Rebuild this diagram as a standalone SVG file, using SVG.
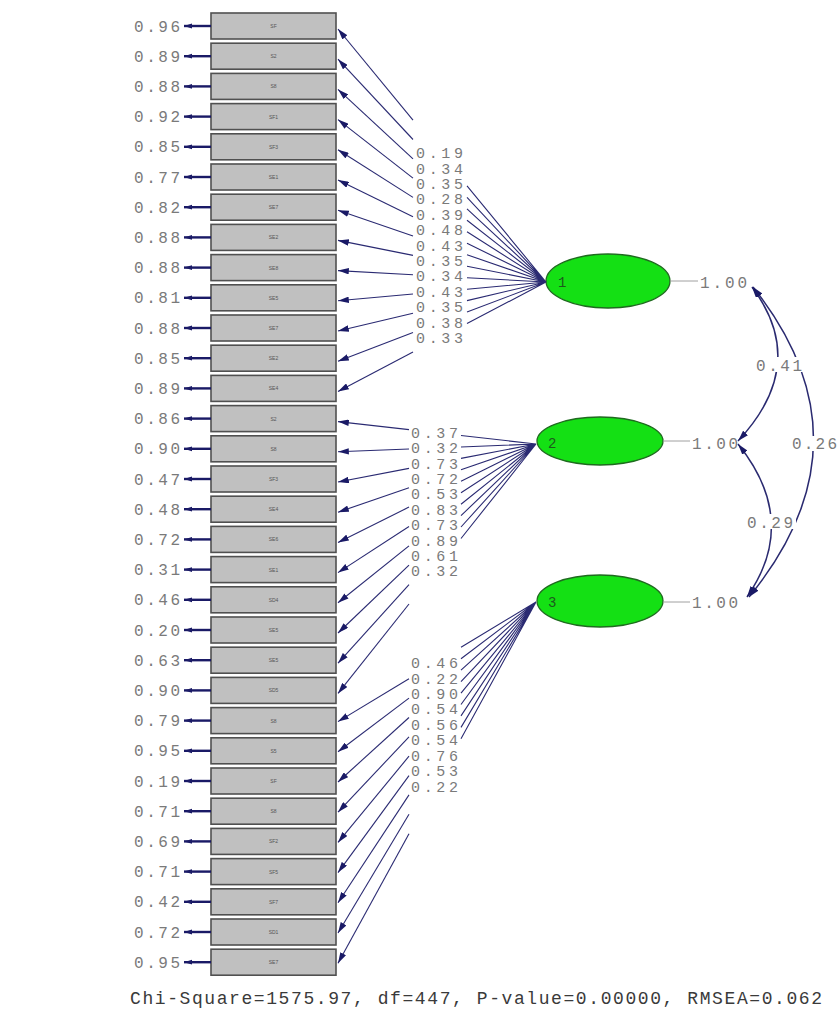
<svg xmlns="http://www.w3.org/2000/svg" width="837" height="1012" viewBox="0 0 837 1012">
  <style>
    .box { fill: #c0c0c0; stroke: #505050; stroke-width: 1.6; }
    .vl { font-family: "Liberation Sans", Arial, sans-serif; font-size: 5px; fill: #555; text-anchor: middle; }
    .num { font-family: "Liberation Mono", "Courier New", monospace; font-size: 16px; fill: #7a7a7a; }
    .ld { font-family: "Liberation Mono", "Courier New", monospace; font-size: 15px; fill: #7a7a7a; }
    .fac { fill: #14e014; stroke: #1f6b1f; stroke-width: 1.3; }
    .fl { font-family: "Liberation Mono", "Courier New", monospace; font-size: 14px; fill: #1d5a1d; }
    .ln { fill: none; stroke: #2a2a72; stroke-width: 1.1; }
    .err { fill: none; stroke: #1a1a66; stroke-width: 2.4; }
    .cov { fill: none; stroke: #2a2a70; stroke-width: 1.5; }
    .var { fill: none; stroke: #a0a0a0; stroke-width: 1; }
    .bg { fill: #ffffff; }
    .fit { font-family: "Liberation Mono", "Courier New", monospace; font-size: 18px; fill: #3a3a3a; }
  </style>
  <defs>
    <marker id="ah" viewBox="0 0 10 6" refX="10" refY="3" markerWidth="11" markerHeight="6.5" markerUnits="userSpaceOnUse" orient="auto">
      <path d="M0,0 L10,3 L0,6 z" fill="#1a1a66"/>
    </marker>
    <marker id="ahe" viewBox="0 0 10 6" refX="10" refY="3" markerWidth="8" markerHeight="6" markerUnits="userSpaceOnUse" orient="auto">
      <path d="M0,0 L10,3 L0,6 z" fill="#1a1a66"/>
    </marker>
    <marker id="ahc" viewBox="0 0 10 6" refX="10" refY="3" markerWidth="11" markerHeight="7" markerUnits="userSpaceOnUse" orient="auto-start-reverse">
      <path d="M0,0 L10,3 L0,6 z" fill="#1a1a66"/>
    </marker>
  </defs>
  <rect width="837" height="1012" fill="#ffffff"/>

  <!-- observed variables -->
  <g id="v01"><rect class="box" x="211" y="13" width="125" height="26"/><text class="vl" x="273.5" y="28">SF</text></g>
  <g id="v02"><rect class="box" x="211" y="43.2" width="125" height="26"/><text class="vl" x="273.5" y="58.2">S2</text></g>
  <g id="v03"><rect class="box" x="211" y="73.4" width="125" height="26"/><text class="vl" x="273.5" y="88.4">S8</text></g>
  <g id="v04"><rect class="box" x="211" y="103.6" width="125" height="26"/><text class="vl" x="273.5" y="118.6">SF1</text></g>
  <g id="v05"><rect class="box" x="211" y="133.8" width="125" height="26"/><text class="vl" x="273.5" y="148.8">SF3</text></g>
  <g id="v06"><rect class="box" x="211" y="164" width="125" height="26"/><text class="vl" x="273.5" y="179">SE1</text></g>
  <g id="v07"><rect class="box" x="211" y="194.2" width="125" height="26"/><text class="vl" x="273.5" y="209.2">SE7</text></g>
  <g id="v08"><rect class="box" x="211" y="224.4" width="125" height="26"/><text class="vl" x="273.5" y="239.4">SE2</text></g>
  <g id="v09"><rect class="box" x="211" y="254.6" width="125" height="26"/><text class="vl" x="273.5" y="269.6">SE8</text></g>
  <g id="v10"><rect class="box" x="211" y="284.8" width="125" height="26"/><text class="vl" x="273.5" y="299.8">SE5</text></g>
  <g id="v11"><rect class="box" x="211" y="315" width="125" height="26"/><text class="vl" x="273.5" y="330">SE7</text></g>
  <g id="v12"><rect class="box" x="211" y="345.2" width="125" height="26"/><text class="vl" x="273.5" y="360.2">SE2</text></g>
  <g id="v13"><rect class="box" x="211" y="375.4" width="125" height="26"/><text class="vl" x="273.5" y="390.4">SE4</text></g>
  <g id="v14"><rect class="box" x="211" y="405.6" width="125" height="26"/><text class="vl" x="273.5" y="420.6">S2</text></g>
  <g id="v15"><rect class="box" x="211" y="435.8" width="125" height="26"/><text class="vl" x="273.5" y="450.8">S8</text></g>
  <g id="v16"><rect class="box" x="211" y="466" width="125" height="26"/><text class="vl" x="273.5" y="481">SF3</text></g>
  <g id="v17"><rect class="box" x="211" y="496.2" width="125" height="26"/><text class="vl" x="273.5" y="511.2">SE4</text></g>
  <g id="v18"><rect class="box" x="211" y="526.4" width="125" height="26"/><text class="vl" x="273.5" y="541.4">SE6</text></g>
  <g id="v19"><rect class="box" x="211" y="556.6" width="125" height="26"/><text class="vl" x="273.5" y="571.6">SE1</text></g>
  <g id="v20"><rect class="box" x="211" y="586.8" width="125" height="26"/><text class="vl" x="273.5" y="601.8">SD4</text></g>
  <g id="v21"><rect class="box" x="211" y="617" width="125" height="26"/><text class="vl" x="273.5" y="632">SE5</text></g>
  <g id="v22"><rect class="box" x="211" y="647.2" width="125" height="26"/><text class="vl" x="273.5" y="662.2">SE5</text></g>
  <g id="v23"><rect class="box" x="211" y="677.4" width="125" height="26"/><text class="vl" x="273.5" y="692.4">SD5</text></g>
  <g id="v24"><rect class="box" x="211" y="707.6" width="125" height="26"/><text class="vl" x="273.5" y="722.6">S8</text></g>
  <g id="v25"><rect class="box" x="211" y="737.8" width="125" height="26"/><text class="vl" x="273.5" y="752.8">S5</text></g>
  <g id="v26"><rect class="box" x="211" y="768" width="125" height="26"/><text class="vl" x="273.5" y="783">SF</text></g>
  <g id="v27"><rect class="box" x="211" y="798.2" width="125" height="26"/><text class="vl" x="273.5" y="813.2">S8</text></g>
  <g id="v28"><rect class="box" x="211" y="828.4" width="125" height="26"/><text class="vl" x="273.5" y="843.4">SF2</text></g>
  <g id="v29"><rect class="box" x="211" y="858.6" width="125" height="26"/><text class="vl" x="273.5" y="873.6">SF5</text></g>
  <g id="v30"><rect class="box" x="211" y="888.8" width="125" height="26"/><text class="vl" x="273.5" y="903.8">SF7</text></g>
  <g id="v31"><rect class="box" x="211" y="919" width="125" height="26"/><text class="vl" x="273.5" y="934">SD1</text></g>
  <g id="v32"><rect class="box" x="211" y="949.2" width="125" height="26"/><text class="vl" x="273.5" y="964.2">SE7</text></g>

  <!-- latent factors -->
  <g id="f1"><ellipse class="fac" cx="608" cy="281" rx="62" ry="27"/><text class="fl" x="558" y="287">1</text></g>
  <g id="f2"><ellipse class="fac" cx="600" cy="441" rx="63" ry="24"/><text class="fl" x="548" y="448">2</text></g>
  <g id="f3"><ellipse class="fac" cx="600" cy="601" rx="63" ry="26"/><text class="fl" x="548" y="607">3</text></g>

  <g id="connectors">
    <!-- error variances -->
    <g class="err">
      <line x1="211" y1="26" x2="184" y2="26" marker-end="url(#ahe)"/>
      <line x1="211" y1="56.2" x2="184" y2="56.2" marker-end="url(#ahe)"/>
      <line x1="211" y1="86.4" x2="184" y2="86.4" marker-end="url(#ahe)"/>
      <line x1="211" y1="116.6" x2="184" y2="116.6" marker-end="url(#ahe)"/>
      <line x1="211" y1="146.8" x2="184" y2="146.8" marker-end="url(#ahe)"/>
      <line x1="211" y1="177" x2="184" y2="177" marker-end="url(#ahe)"/>
      <line x1="211" y1="207.2" x2="184" y2="207.2" marker-end="url(#ahe)"/>
      <line x1="211" y1="237.4" x2="184" y2="237.4" marker-end="url(#ahe)"/>
      <line x1="211" y1="267.6" x2="184" y2="267.6" marker-end="url(#ahe)"/>
      <line x1="211" y1="297.8" x2="184" y2="297.8" marker-end="url(#ahe)"/>
      <line x1="211" y1="328" x2="184" y2="328" marker-end="url(#ahe)"/>
      <line x1="211" y1="358.2" x2="184" y2="358.2" marker-end="url(#ahe)"/>
      <line x1="211" y1="388.4" x2="184" y2="388.4" marker-end="url(#ahe)"/>
      <line x1="211" y1="418.6" x2="184" y2="418.6" marker-end="url(#ahe)"/>
      <line x1="211" y1="448.8" x2="184" y2="448.8" marker-end="url(#ahe)"/>
      <line x1="211" y1="479" x2="184" y2="479" marker-end="url(#ahe)"/>
      <line x1="211" y1="509.2" x2="184" y2="509.2" marker-end="url(#ahe)"/>
      <line x1="211" y1="539.4" x2="184" y2="539.4" marker-end="url(#ahe)"/>
      <line x1="211" y1="569.6" x2="184" y2="569.6" marker-end="url(#ahe)"/>
      <line x1="211" y1="599.8" x2="184" y2="599.8" marker-end="url(#ahe)"/>
      <line x1="211" y1="630" x2="184" y2="630" marker-end="url(#ahe)"/>
      <line x1="211" y1="660.2" x2="184" y2="660.2" marker-end="url(#ahe)"/>
      <line x1="211" y1="690.4" x2="184" y2="690.4" marker-end="url(#ahe)"/>
      <line x1="211" y1="720.6" x2="184" y2="720.6" marker-end="url(#ahe)"/>
      <line x1="211" y1="750.8" x2="184" y2="750.8" marker-end="url(#ahe)"/>
      <line x1="211" y1="781" x2="184" y2="781" marker-end="url(#ahe)"/>
      <line x1="211" y1="811.2" x2="184" y2="811.2" marker-end="url(#ahe)"/>
      <line x1="211" y1="841.4" x2="184" y2="841.4" marker-end="url(#ahe)"/>
      <line x1="211" y1="871.6" x2="184" y2="871.6" marker-end="url(#ahe)"/>
      <line x1="211" y1="901.8" x2="184" y2="901.8" marker-end="url(#ahe)"/>
      <line x1="211" y1="932" x2="184" y2="932" marker-end="url(#ahe)"/>
      <line x1="211" y1="962.2" x2="184" y2="962.2" marker-end="url(#ahe)"/>
    </g>
    <g class="num">
      <text x="134" y="31.5" textLength="46">0.96</text>
      <text x="134" y="61.7" textLength="46">0.89</text>
      <text x="134" y="91.9" textLength="46">0.88</text>
      <text x="134" y="122.1" textLength="46">0.92</text>
      <text x="134" y="152.3" textLength="46">0.85</text>
      <text x="134" y="182.5" textLength="46">0.77</text>
      <text x="134" y="212.7" textLength="46">0.82</text>
      <text x="134" y="242.9" textLength="46">0.88</text>
      <text x="134" y="273.1" textLength="46">0.88</text>
      <text x="134" y="303.3" textLength="46">0.81</text>
      <text x="134" y="333.5" textLength="46">0.88</text>
      <text x="134" y="363.7" textLength="46">0.85</text>
      <text x="134" y="393.9" textLength="46">0.89</text>
      <text x="134" y="424.1" textLength="46">0.86</text>
      <text x="134" y="454.3" textLength="46">0.90</text>
      <text x="134" y="484.5" textLength="46">0.47</text>
      <text x="134" y="514.7" textLength="46">0.48</text>
      <text x="134" y="544.9" textLength="46">0.72</text>
      <text x="134" y="575.1" textLength="46">0.31</text>
      <text x="134" y="605.3" textLength="46">0.46</text>
      <text x="134" y="635.5" textLength="46">0.20</text>
      <text x="134" y="665.7" textLength="46">0.63</text>
      <text x="134" y="695.9" textLength="46">0.90</text>
      <text x="134" y="726.1" textLength="46">0.79</text>
      <text x="134" y="756.3" textLength="46">0.95</text>
      <text x="134" y="786.5" textLength="46">0.19</text>
      <text x="134" y="816.7" textLength="46">0.71</text>
      <text x="134" y="846.9" textLength="46">0.69</text>
      <text x="134" y="877.1" textLength="46">0.71</text>
      <text x="134" y="907.3" textLength="46">0.42</text>
      <text x="134" y="937.5" textLength="46">0.72</text>
      <text x="134" y="967.7" textLength="46">0.95</text>
    </g>

    <!-- loadings of factor 1 -->
    <path class="ln" d="M546,282 L467,185.9 M546,282 L467,197.4 M546,282 L467,208.9 M546,282 L467,220.3 M546,282 L467,231.8 M546,282 L467,243.3 M546,282 L467,254.8 M546,282 L467,266.2 M546,282 L467,277.7 M546,282 L467,289.2 M546,282 L467,300.6 M546,282 L467,312.1 M546,282 L467,323.6"/>
    <g class="ln">
      <line x1="413" y1="120.2" x2="338" y2="29" marker-end="url(#ah)"/>
      <line x1="413" y1="139.5" x2="338" y2="59.2" marker-end="url(#ah)"/>
      <line x1="413" y1="158.8" x2="338" y2="89.4" marker-end="url(#ah)"/>
      <line x1="413" y1="178.1" x2="338" y2="119.6" marker-end="url(#ah)"/>
      <line x1="413" y1="197.4" x2="338" y2="149.8" marker-end="url(#ah)"/>
      <line x1="413" y1="216.7" x2="338" y2="180" marker-end="url(#ah)"/>
      <line x1="413" y1="236.1" x2="338" y2="210.2" marker-end="url(#ah)"/>
      <line x1="413" y1="255.4" x2="338" y2="240.4" marker-end="url(#ah)"/>
      <line x1="413" y1="274.7" x2="338" y2="270.6" marker-end="url(#ah)"/>
      <line x1="413" y1="294" x2="338" y2="300.8" marker-end="url(#ah)"/>
      <line x1="413" y1="313.3" x2="338" y2="331" marker-end="url(#ah)"/>
      <line x1="413" y1="332.6" x2="338" y2="361.2" marker-end="url(#ah)"/>
      <line x1="413" y1="351.9" x2="338" y2="391.4" marker-end="url(#ah)"/>
    </g>
    <g class="ld">
      <text x="416" y="158.3" textLength="47">0.19</text>
      <text x="416" y="173.7" textLength="47">0.34</text>
      <text x="416" y="189" textLength="47">0.35</text>
      <text x="416" y="204.4" textLength="47">0.28</text>
      <text x="416" y="219.8" textLength="47">0.39</text>
      <text x="416" y="235.2" textLength="47">0.48</text>
      <text x="416" y="250.6" textLength="47">0.43</text>
      <text x="416" y="266" textLength="47">0.35</text>
      <text x="416" y="281.4" textLength="47">0.34</text>
      <text x="416" y="296.8" textLength="47">0.43</text>
      <text x="416" y="312.2" textLength="47">0.35</text>
      <text x="416" y="327.6" textLength="47">0.38</text>
      <text x="416" y="342.9" textLength="47">0.33</text>
    </g>

    <!-- loadings of factor 2 -->
    <path class="ln" d="M536,444 L461,435.5 M536,444 L461,447 M536,444 L461,458.4 M536,444 L461,469.8 M536,444 L461,481.3 M536,444 L461,492.7 M536,444 L461,504.2 M536,444 L461,515.6 M536,444 L461,527 M536,444 L461,538.5"/>
    <g class="ln">
      <line x1="409" y1="429.6" x2="338" y2="421.6" marker-end="url(#ah)"/>
      <line x1="409" y1="449" x2="338" y2="451.8" marker-end="url(#ah)"/>
      <line x1="409" y1="468.4" x2="338" y2="482" marker-end="url(#ah)"/>
      <line x1="409" y1="487.7" x2="338" y2="512.2" marker-end="url(#ah)"/>
      <line x1="409" y1="507.1" x2="338" y2="542.4" marker-end="url(#ah)"/>
      <line x1="409" y1="526.5" x2="338" y2="572.6" marker-end="url(#ah)"/>
      <line x1="409" y1="545.9" x2="338" y2="602.8" marker-end="url(#ah)"/>
      <line x1="409" y1="565.2" x2="338" y2="633" marker-end="url(#ah)"/>
      <line x1="409" y1="584.6" x2="338" y2="663.2" marker-end="url(#ah)"/>
      <line x1="409" y1="604" x2="338" y2="693.4" marker-end="url(#ah)"/>
    </g>
    <g class="ld">
      <text x="411" y="437.8" textLength="47">0.37</text>
      <text x="411" y="453.2" textLength="47">0.32</text>
      <text x="411" y="468.6" textLength="47">0.73</text>
      <text x="411" y="484" textLength="47">0.72</text>
      <text x="411" y="499.4" textLength="47">0.53</text>
      <text x="411" y="514.8" textLength="47">0.83</text>
      <text x="411" y="530.2" textLength="47">0.73</text>
      <text x="411" y="545.6" textLength="47">0.89</text>
      <text x="411" y="561" textLength="47">0.61</text>
      <text x="411" y="576.4" textLength="47">0.32</text>
    </g>

    <!-- loadings of factor 3 -->
    <path class="ln" d="M536,602 L461,647.3 M536,602 L461,658.7 M536,602 L461,670.2 M536,602 L461,681.6 M536,602 L461,693.1 M536,602 L461,704.5 M536,602 L461,715.9 M536,602 L461,727.4 M536,602 L461,738.8"/>
    <g class="ln">
      <line x1="409" y1="678.7" x2="338" y2="721.6" marker-end="url(#ah)"/>
      <line x1="409" y1="698.1" x2="338" y2="751.8" marker-end="url(#ah)"/>
      <line x1="409" y1="717.5" x2="338" y2="782" marker-end="url(#ah)"/>
      <line x1="409" y1="736.8" x2="338" y2="812.2" marker-end="url(#ah)"/>
      <line x1="409" y1="756.2" x2="338" y2="842.4" marker-end="url(#ah)"/>
      <line x1="409" y1="775.6" x2="338" y2="872.6" marker-end="url(#ah)"/>
      <line x1="409" y1="794.9" x2="338" y2="902.8" marker-end="url(#ah)"/>
      <line x1="409" y1="814.3" x2="338" y2="933" marker-end="url(#ah)"/>
      <line x1="409" y1="833.7" x2="338" y2="963.2" marker-end="url(#ah)"/>
    </g>
    <g class="ld">
      <text x="411" y="668.2" textLength="47">0.46</text>
      <text x="411" y="683.6" textLength="47">0.22</text>
      <text x="411" y="699" textLength="47">0.90</text>
      <text x="411" y="714.4" textLength="47">0.54</text>
      <text x="411" y="729.8" textLength="47">0.56</text>
      <text x="411" y="745.2" textLength="47">0.54</text>
      <text x="411" y="760.6" textLength="47">0.76</text>
      <text x="411" y="776" textLength="47">0.53</text>
      <text x="411" y="791.5" textLength="47">0.22</text>
    </g>

    <!-- factor variances -->
    <path class="var" d="M670,281 H698 M663,441 H690 M663,602 H690"/>
    <g class="num">
      <text x="700" y="288" textLength="47">1.00</text>
      <text x="692" y="449" textLength="46">1.00</text>
      <text x="692" y="608" textLength="46">1.00</text>
    </g>

    <!-- factor covariances -->
    <path class="cov" marker-start="url(#ahc)" marker-end="url(#ahc)" d="M752,287 Q810,364 738,441"/>
    <path class="cov" marker-start="url(#ahc)" marker-end="url(#ahc)" d="M738,444 Q800,521 747,597"/>
    <path class="cov" marker-start="url(#ahc)" marker-end="url(#ahc)" d="M753,287 Q876,442 749,597"/>
    <rect class="bg" x="753" y="357" width="50" height="15"/>
    <rect class="bg" x="744" y="514" width="52" height="15"/>
    <rect class="bg" x="790" y="436" width="47" height="15"/>
    <g class="num">
      <text x="756" y="371" textLength="46">0.41</text>
      <text x="747" y="528" textLength="46">0.29</text>
      <text x="792" y="449" textLength="45">0.26</text>
    </g>
  </g>

  <text class="fit" x="130" y="1004" textLength="692">Chi-Square=1575.97, df=447, P-value=0.00000, RMSEA=0.062</text>
</svg>
